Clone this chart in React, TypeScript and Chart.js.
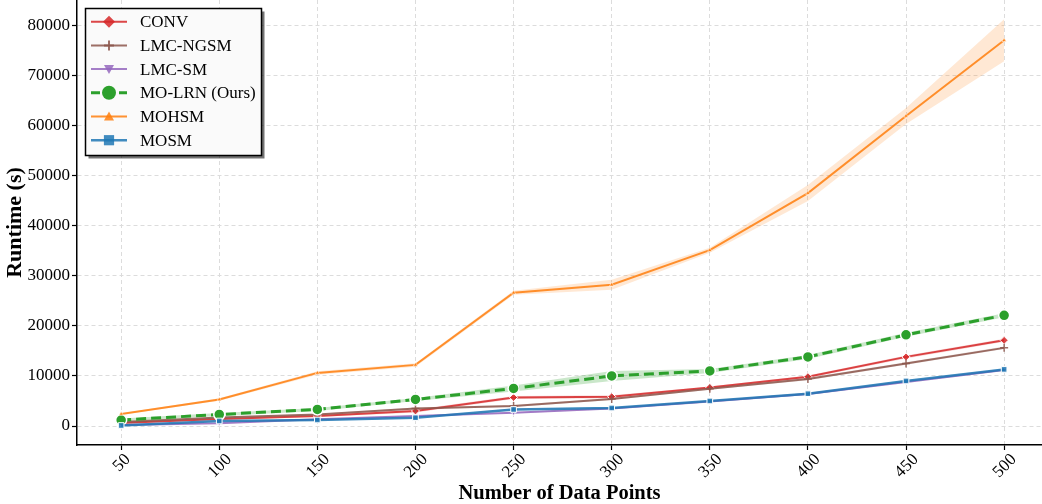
import { useEffect, useRef } from 'react';
import { Chart, registerables } from 'chart.js';

Chart.register(...registerables);

const dataPoints = [50, 100, 150, 200, 250, 300, 350, 400, 450, 500];
const yTickValues = [0, 10000, 20000, 30000, 40000, 50000, 60000, 70000, 80000];

const seriesNames = ['CONV', 'LMC-NGSM', 'LMC-SM', 'MO-LRN (Ours)', 'MOHSM', 'MOSM'];

const convMean = [600, 1400, 2000, 3000, 5700, 5850, 7700, 9850, 13800, 17100];
const convStd = [100, 150, 200, 300, 300, 300, 200, 250, 300, 300];
const lmcNgsmMean = [800, 1700, 2300, 3500, 4000, 5400, 7450, 9400, 12500, 15600];
const lmcNgsmStd = [100, 150, 150, 200, 200, 200, 200, 250, 250, 250];
const lmcSmMean = [200, 550, 1350, 2000, 2650, 3500, 4900, 6400, 8800, 11200];
const lmcSmStd = [50, 100, 100, 150, 150, 150, 150, 200, 200, 200];
const moLrnMean = [1200, 2300, 3300, 5300, 7500, 10000, 11000, 13800, 18200, 22100];
const moLrnStd = [300, 300, 300, 300, 600, 1000, 400, 400, 400, 400];
const mohsmMean = [2400, 5300, 10600, 12200, 26600, 28200, 35100, 46500, 61900, 77000];
const mohsmStd = [150, 250, 350, 350, 400, 1000, 500, 1600, 1600, 4200];
const mosmMean = [100, 1000, 1200, 1650, 3300, 3600, 5000, 6450, 9000, 11300];
const mosmStd = [50, 100, 100, 150, 200, 150, 150, 200, 200, 200];

const FONT = '"Liberation Serif", "Times New Roman", serif';

type Series = {
  name: string;
  mean: number[];
  std: number[];
  color: string;
  band: string;
  style: string;
  rotation: number;
  radius: number;
  legendR: number;
  width: number;
  dash: number[];
  border: number;
};

const series: Series[] = [
  { name: seriesNames[0], mean: convMean, std: convStd, color: 'rgba(214,39,40,0.85)', band: 'rgba(214,39,40,0.18)', style: 'rectRot', rotation: 0, radius: 4, legendR: 6, width: 2, dash: [], border: 1 },
  { name: seriesNames[1], mean: lmcNgsmMean, std: lmcNgsmStd, color: 'rgba(140,86,75,0.85)', band: 'rgba(140,86,75,0.18)', style: 'cross', rotation: 0, radius: 4, legendR: 5, width: 2, dash: [], border: 1.5 },
  { name: seriesNames[2], mean: lmcSmMean, std: lmcSmStd, color: 'rgba(148,103,189,0.85)', band: 'rgba(148,103,189,0.18)', style: 'triangle', rotation: 180, radius: 3, legendR: 5, width: 2, dash: [], border: 0.8 },
  { name: seriesNames[3], mean: moLrnMean, std: moLrnStd, color: 'rgba(44,160,44,1)', band: 'rgba(44,160,44,0.25)', style: 'circle', rotation: 0, radius: 5.5, legendR: 7, width: 3, dash: [10, 5], border: 1.5 },
  { name: seriesNames[4], mean: mohsmMean, std: mohsmStd, color: 'rgba(255,127,14,0.85)', band: 'rgba(255,127,14,0.18)', style: 'triangle', rotation: 0, radius: 2.5, legendR: 5, width: 2, dash: [], border: 0.5 },
  { name: seriesNames[5], mean: mosmMean, std: mosmStd, color: 'rgba(31,119,180,0.85)', band: 'rgba(31,119,180,0.18)', style: 'rect', rotation: 0, radius: 4, legendR: 6, width: 2.5, dash: [], border: 1 },
];

function drawMarker(ctx: CanvasRenderingContext2D, s: Series, x: number, y: number) {
  const r = s.legendR;
  ctx.save();
  ctx.fillStyle = s.color;
  ctx.strokeStyle = s.color;
  ctx.setLineDash([]);
  ctx.beginPath();
  if (s.style === 'rectRot') {
    ctx.moveTo(x, y - r);
    ctx.lineTo(x + r, y);
    ctx.lineTo(x, y + r);
    ctx.lineTo(x - r, y);
    ctx.closePath();
    ctx.fill();
  } else if (s.style === 'cross') {
    ctx.lineWidth = 2;
    ctx.moveTo(x - r, y);
    ctx.lineTo(x + r, y);
    ctx.moveTo(x, y - r);
    ctx.lineTo(x, y + r);
    ctx.stroke();
  } else if (s.style === 'triangle') {
    const d = s.rotation === 180 ? -1 : 1;
    ctx.moveTo(x, y - d * r);
    ctx.lineTo(x + r, y + d * r * 0.8);
    ctx.lineTo(x - r, y + d * r * 0.8);
    ctx.closePath();
    ctx.fill();
  } else if (s.style === 'circle') {
    ctx.arc(x, y, r, 0, Math.PI * 2);
    ctx.fill();
  } else {
    ctx.rect(x - r * 0.85, y - r * 0.85, r * 1.7, r * 1.7);
    ctx.fill();
  }
  ctx.restore();
}

const xLabelPlugin = {
  id: 'xLabels',
  afterDraw(chart: any) {
    const ctx: CanvasRenderingContext2D = chart.ctx;
    const xs = chart.scales.x;
    ctx.save();
    ctx.font = `17px ${FONT}`;
    ctx.fillStyle = '#000';
    ctx.textAlign = 'center';
    ctx.textBaseline = 'middle';
    dataPoints.forEach((v) => {
      const label = String(v);
      const w = ctx.measureText(label).width;
      const half = (w + 12) * 0.7071 / 2;
      const cx = xs.getPixelForValue(v);
      const cy = 452 + half;
      ctx.save();
      ctx.translate(cx, cy);
      ctx.rotate(-Math.PI / 4);
      ctx.fillText(label, 0, 1);
      ctx.restore();
    });
    ctx.restore();
  },
};

const legendPlugin = {
  id: 'mplLegend',
  afterDraw(chart: any) {
    const ctx: CanvasRenderingContext2D = chart.ctx;
    const x0 = 85.5, y0 = 8.5, w = 176, h = 147;
    ctx.save();
    ctx.fillStyle = 'rgba(0,0,0,0.55)';
    ctx.fillRect(x0 + 3, y0 + 3, w, h);
    ctx.fillStyle = '#fafafa';
    ctx.fillRect(x0, y0, w, h);
    ctx.strokeStyle = '#000';
    ctx.lineWidth = 1.5;
    ctx.strokeRect(x0, y0, w, h);
    ctx.font = `17px ${FONT}`;
    ctx.textBaseline = 'middle';
    ctx.textAlign = 'left';
    series.forEach((s, i) => {
      const y = 21.7 + i * 23.7;
      ctx.save();
      ctx.strokeStyle = s.color;
      ctx.lineWidth = s.width;
      ctx.setLineDash(s.dash.length ? [9, 5] : []);
      ctx.beginPath();
      ctx.moveTo(91, y);
      ctx.lineTo(127, y);
      ctx.stroke();
      ctx.restore();
      drawMarker(ctx, s, 109, y);
      ctx.fillStyle = '#000';
      ctx.fillText(s.name, 140, y + 1);
    });
    ctx.restore();
  },
};

export default function App() {
  const ref = useRef<HTMLCanvasElement | null>(null);

  useEffect(() => {
    document.body.style.margin = '0';
    const canvas = ref.current;
    if (!canvas) return;

    const datasets: any[] = [];
    series.forEach((s) => {
      datasets.push({
        label: s.name + ' upper',
        data: dataPoints.map((x, k) => ({ x, y: s.mean[k] + s.std[k] })),
        borderWidth: 0,
        pointRadius: 0,
        fill: false,
        order: 20,
      });
      datasets.push({
        label: s.name + ' lower',
        data: dataPoints.map((x, k) => ({ x, y: s.mean[k] - s.std[k] })),
        borderWidth: 0,
        pointRadius: 0,
        backgroundColor: s.band,
        fill: '-1',
        order: 20,
      });
    });
    series.forEach((s, i) => {
      datasets.push({
        label: s.name,
        data: dataPoints.map((x, k) => ({ x, y: s.mean[k] })),
        borderColor: s.color,
        backgroundColor: s.color,
        borderWidth: s.width,
        borderDash: s.dash,
        pointStyle: s.style,
        pointRotation: s.rotation,
        pointRadius: s.radius,
        pointBorderColor: s.style === 'cross' ? s.color : '#ffffff',
        pointBackgroundColor: s.color,
        pointBorderWidth: s.border,
        fill: false,
        tension: 0,
        order: 10 - i,
      });
    });

    const chart = new Chart(canvas, {
      type: 'line',
      data: { datasets },
      plugins: [legendPlugin, xLabelPlugin],
      options: {
        responsive: false,
        animation: false,
        events: [],
        layout: { padding: 0, autoPadding: false },
        plugins: {
          legend: { display: false },
          tooltip: { enabled: false },
        },
        scales: {
          x: {
            type: 'linear',
            min: 27.5,
            max: 519.3,
            afterBuildTicks: (scale: any) => {
              scale.ticks = dataPoints.map((v) => ({ value: v }));
            },
            afterFit: (scale: any) => {
              scale.height = 59;
              scale.paddingLeft = 0;
              scale.paddingRight = 0;
            },
            grid: {
              color: '#dcdcdc',
              lineWidth: 1,
              tickColor: '#000',
              tickLength: 5,
              tickWidth: 1.2,
            },
            border: { display: true, color: '#000', width: 1.5, dash: [4, 3] },
            ticks: {
              display: false,
            },
            title: {
              display: true,
              text: 'Number of Data Points',
              color: '#000',
              font: { family: FONT, size: 20.5, weight: 'bold' },
              padding: { top: 0, bottom: -2 },
            },
          },
          y: {
            type: 'linear',
            min: -3793,
            max: 85050,
            afterBuildTicks: (scale: any) => {
              scale.ticks = yTickValues.map((v) => ({ value: v }));
            },
            afterFit: (scale: any) => {
              scale.width = 77;
              scale.paddingTop = 0;
              scale.paddingBottom = 0;
            },
            grid: {
              color: '#dcdcdc',
              lineWidth: 1,
              tickColor: '#000',
              tickLength: 5,
              tickWidth: 1.2,
            },
            border: { display: true, color: '#000', width: 1.5, dash: [4, 3] },
            ticks: {
              color: '#000',
              font: { family: FONT, size: 17 },
              padding: 2,
              callback: (v: any) => String(v),
            },
            title: {
              display: true,
              text: 'Runtime (s)',
              color: '#000',
              font: { family: FONT, size: 22, weight: 'bold' },
              padding: { top: 1.8, bottom: 0 },
            },
          },
        },
      } as any,
    });

    return () => chart.destroy();
  }, []);

  return <canvas ref={ref} width={1042} height={504} style={{ display: 'block' }} />;
}
